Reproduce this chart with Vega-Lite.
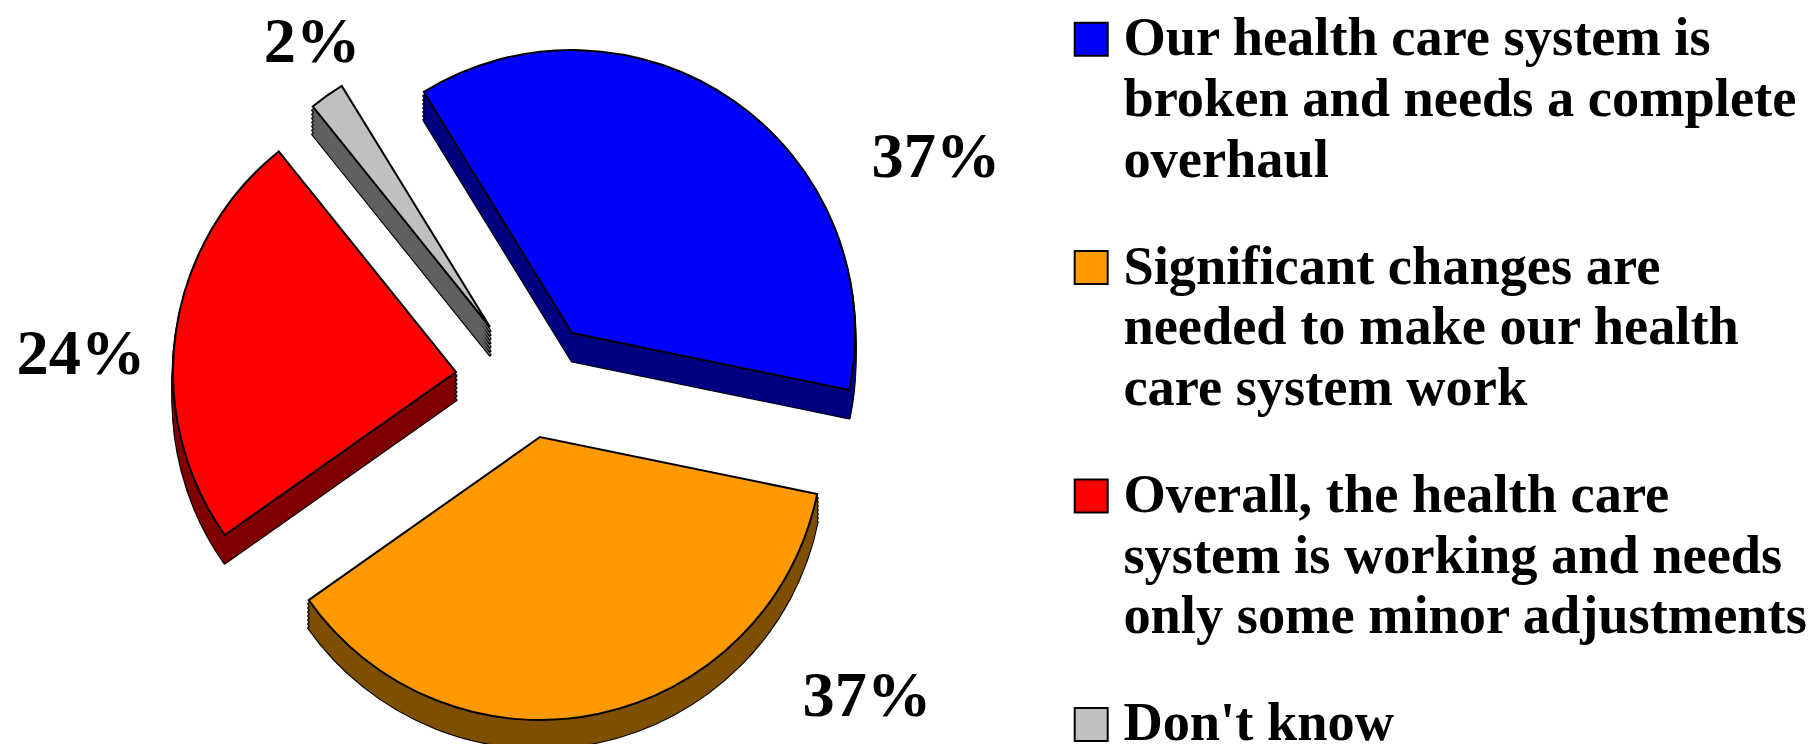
{"$schema":"https://vega.github.io/schema/vega-lite/v6.json","width":1812,"height":744,"padding":0,"autosize":"none","background":"white",
"config":{"arc":{"outerRadius":283},"text":{"font":"Liberation Serif","fontWeight":"bold","fontSize":64.4,"color":"black","baseline":"middle","align":"center"},
"style":{"k":{"color":"black","stroke":"black","strokeWidth":3,"strokeJoin":"round"},"db":{"color":"#000080","stroke":"#000080","strokeWidth":1},"dy":{"color":"#7f4f00","stroke":"#7f4f00","strokeWidth":1},"dr":{"color":"#800000","stroke":"#800000","strokeWidth":1},"dg":{"color":"#606060","stroke":"#606060","strokeWidth":1},"face":{"stroke":"black","strokeWidth":2,"opacity":1}}},
"data":{"values":[
{"answer":"Our health care system is\nbroken and needs a complete\noverhaul","key":"a","share":0.37},
{"answer":"Significant changes are\nneeded to make our health\ncare system work","key":"b","share":0.37},
{"answer":"Overall, the health care\nsystem is working and needs\nonly some minor adjustments","key":"c","share":0.24},
{"answer":"Don't know","key":"d","share":0.02}]},
"transform":[{"window":[{"op":"row_number","as":"ord"}]},{"stack":"share","sort":[{"field":"ord"}],"as":["s0","s1"]}],
"encoding":{"theta":{"field":"s0","type":"quantitative","scale":{"domain":[0,1],"range":[5.732,12.015]}},"theta2":{"field":"s1"}},
"layer":[
{"transform":[{"filter":"datum.key=='a'"}],"layer":[
{"mark":{"type":"arc","style":"k","xOffset":-334,"yOffset":-11}},{"mark":{"type":"arc","style":"k","xOffset":-334,"yOffset":-15}},{"mark":{"type":"arc","style":"k","xOffset":-334,"yOffset":-19}},{"mark":{"type":"arc","style":"k","xOffset":-334,"yOffset":-23}},{"mark":{"type":"arc","style":"k","xOffset":-334,"yOffset":-27}},{"mark":{"type":"arc","style":"k","xOffset":-334,"yOffset":-31}},{"mark":{"type":"arc","style":"k","xOffset":-334,"yOffset":-35}},
{"mark":{"type":"arc","style":"db","xOffset":-334,"yOffset":-11}},{"mark":{"type":"arc","style":"db","xOffset":-334,"yOffset":-15}},{"mark":{"type":"arc","style":"db","xOffset":-334,"yOffset":-19}},{"mark":{"type":"arc","style":"db","xOffset":-334,"yOffset":-23}},{"mark":{"type":"arc","style":"db","xOffset":-334,"yOffset":-27}},{"mark":{"type":"arc","style":"db","xOffset":-334,"yOffset":-31}},{"mark":{"type":"arc","style":"db","xOffset":-334,"yOffset":-35}},
{"mark":{"type":"arc","style":"face","xOffset":-334,"yOffset":-39},"encoding":{"fill":{"field":"answer","type":"nominal","sort":null,"scale":{"domain":["Our health care system is\nbroken and needs a complete\noverhaul","Significant changes are\nneeded to make our health\ncare system work","Overall, the health care\nsystem is working and needs\nonly some minor adjustments","Don't know"],"range":["#0000ff","#ff9900","#ff0000","#c0c0c0"]},"legend":{"orient":"none","legendX":1064,"legendY":12,"title":null,"symbolType":"square","symbolSize":1089,"symbolStrokeColor":"black","symbolStrokeWidth":2,"symbolOpacity":1,"labelFont":"Liberation Serif","labelFontWeight":"bold","labelFontSize":54.4,"labelColor":"black","labelLimit":900,"labelOffset":5,"rowPadding":52.4,"labelExpr":"split(datum.label,'\\n')","encoding":{"labels":{"lineHeight":{"value":60.7}}}}}}}
]},
{"transform":[{"filter":"datum.key=='b'"}],"layer":[
{"mark":{"type":"arc","style":"k","xOffset":-366,"yOffset":93}},{"mark":{"type":"arc","style":"k","xOffset":-366,"yOffset":89}},{"mark":{"type":"arc","style":"k","xOffset":-366,"yOffset":85}},{"mark":{"type":"arc","style":"k","xOffset":-366,"yOffset":81}},{"mark":{"type":"arc","style":"k","xOffset":-366,"yOffset":77}},{"mark":{"type":"arc","style":"k","xOffset":-366,"yOffset":73}},{"mark":{"type":"arc","style":"k","xOffset":-366,"yOffset":69}},
{"mark":{"type":"arc","style":"dy","xOffset":-366,"yOffset":93}},{"mark":{"type":"arc","style":"dy","xOffset":-366,"yOffset":89}},{"mark":{"type":"arc","style":"dy","xOffset":-366,"yOffset":85}},{"mark":{"type":"arc","style":"dy","xOffset":-366,"yOffset":81}},{"mark":{"type":"arc","style":"dy","xOffset":-366,"yOffset":77}},{"mark":{"type":"arc","style":"dy","xOffset":-366,"yOffset":73}},{"mark":{"type":"arc","style":"dy","xOffset":-366,"yOffset":69}},
{"mark":{"type":"arc","style":"face","xOffset":-366,"yOffset":65},"encoding":{"fill":{"field":"answer","type":"nominal","sort":null}}}
]},
{"transform":[{"filter":"datum.key=='c'"}],"layer":[
{"mark":{"type":"arc","style":"k","xOffset":-450,"yOffset":28}},{"mark":{"type":"arc","style":"k","xOffset":-450,"yOffset":24}},{"mark":{"type":"arc","style":"k","xOffset":-450,"yOffset":20}},{"mark":{"type":"arc","style":"k","xOffset":-450,"yOffset":16}},{"mark":{"type":"arc","style":"k","xOffset":-450,"yOffset":12}},{"mark":{"type":"arc","style":"k","xOffset":-450,"yOffset":8}},{"mark":{"type":"arc","style":"k","xOffset":-450,"yOffset":4}},
{"mark":{"type":"arc","style":"dr","xOffset":-450,"yOffset":28}},{"mark":{"type":"arc","style":"dr","xOffset":-450,"yOffset":24}},{"mark":{"type":"arc","style":"dr","xOffset":-450,"yOffset":20}},{"mark":{"type":"arc","style":"dr","xOffset":-450,"yOffset":16}},{"mark":{"type":"arc","style":"dr","xOffset":-450,"yOffset":12}},{"mark":{"type":"arc","style":"dr","xOffset":-450,"yOffset":8}},{"mark":{"type":"arc","style":"dr","xOffset":-450,"yOffset":4}},
{"mark":{"type":"arc","style":"face","xOffset":-450,"yOffset":0},"encoding":{"fill":{"field":"answer","type":"nominal","sort":null}}}
]},
{"transform":[{"filter":"datum.key=='d'"}],"layer":[
{"mark":{"type":"arc","style":"k","xOffset":-416,"yOffset":-17}},{"mark":{"type":"arc","style":"k","xOffset":-416,"yOffset":-21}},{"mark":{"type":"arc","style":"k","xOffset":-416,"yOffset":-25}},{"mark":{"type":"arc","style":"k","xOffset":-416,"yOffset":-29}},{"mark":{"type":"arc","style":"k","xOffset":-416,"yOffset":-33}},{"mark":{"type":"arc","style":"k","xOffset":-416,"yOffset":-37}},{"mark":{"type":"arc","style":"k","xOffset":-416,"yOffset":-41}},
{"mark":{"type":"arc","style":"dg","xOffset":-416,"yOffset":-17}},{"mark":{"type":"arc","style":"dg","xOffset":-416,"yOffset":-21}},{"mark":{"type":"arc","style":"dg","xOffset":-416,"yOffset":-25}},{"mark":{"type":"arc","style":"dg","xOffset":-416,"yOffset":-29}},{"mark":{"type":"arc","style":"dg","xOffset":-416,"yOffset":-33}},{"mark":{"type":"arc","style":"dg","xOffset":-416,"yOffset":-37}},{"mark":{"type":"arc","style":"dg","xOffset":-416,"yOffset":-41}},
{"mark":{"type":"arc","style":"face","xOffset":-416,"yOffset":-45},"encoding":{"fill":{"field":"answer","type":"nominal","sort":null}}}
]},
{"transform":[{"filter":"datum.key=='a'"}],"mark":{"type":"text","xOffset":30,"yOffset":-214},"encoding":{"theta":null,"theta2":null,"text":{"field":"share","format":".0%"}}},
{"transform":[{"filter":"datum.key=='b'"}],"mark":{"type":"text","xOffset":-39,"yOffset":325},"encoding":{"theta":null,"theta2":null,"text":{"field":"share","format":".0%"}}},
{"transform":[{"filter":"datum.key=='c'"}],"mark":{"type":"text","xOffset":-825,"yOffset":-17},"encoding":{"theta":null,"theta2":null,"text":{"field":"share","format":".0%"}}},
{"transform":[{"filter":"datum.key=='d'"}],"mark":{"type":"text","xOffset":-594,"yOffset":-329},"encoding":{"theta":null,"theta2":null,"text":{"field":"share","format":".0%"}}}
]}
